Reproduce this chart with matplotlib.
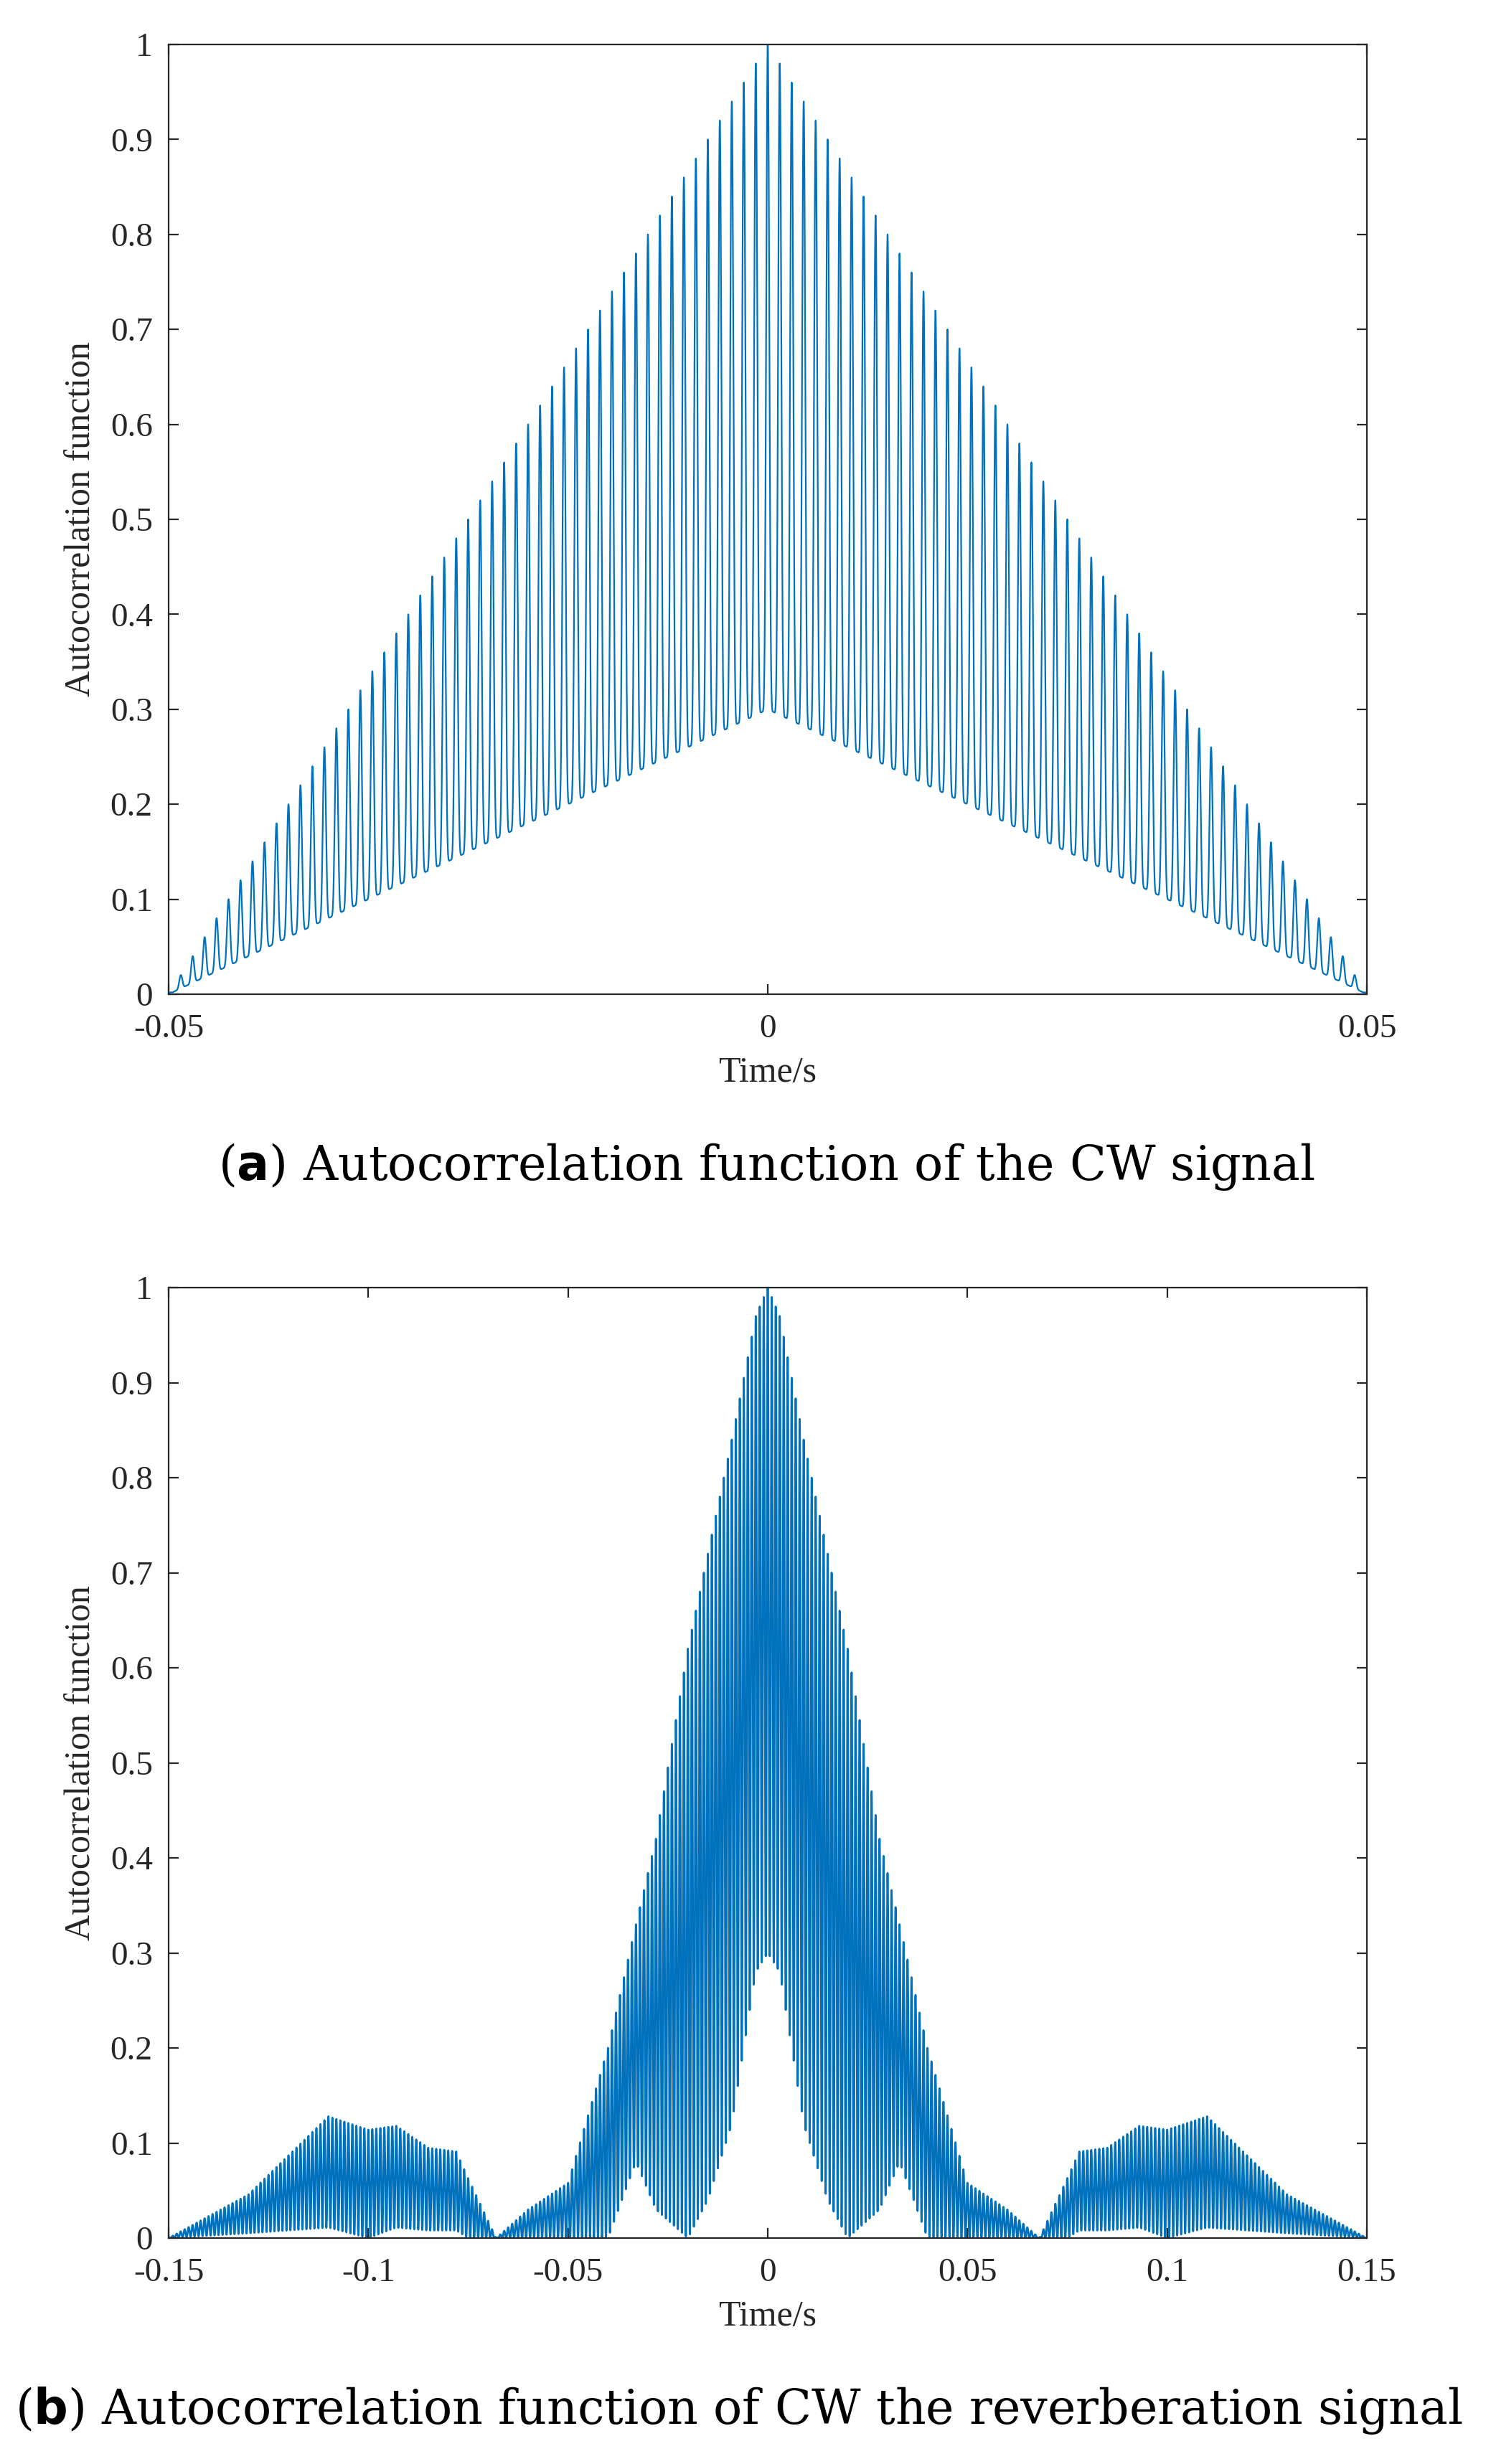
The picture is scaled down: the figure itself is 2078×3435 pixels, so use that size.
import numpy as np
import matplotlib
matplotlib.use("Agg")
import matplotlib.pyplot as plt

plt.rcParams['font.family'] = ['Liberation Serif', 'DejaVu Serif']

# Panel (a): envelope knots
a_t = [-0.05, 0.0, 0.05]
a_upper = [0.0, 1.0, 0.0]
a_lower = [0.0, 0.3, 0.0]
carrier_hz = 1000  # peak spacing ~1 ms

# Panel (b): envelope knots (negative half, mirrored)
b_t_half = [-0.15, -0.13, -0.11, -0.10, -0.093, -0.085, -0.078, -0.075, -0.068,
            -0.06, -0.05, -0.04, -0.033, -0.028, -0.02, -0.015, -0.009, -0.003, 0.0]
b_up_half = [0.0, 0.046, 0.128, 0.114, 0.118, 0.095, 0.091, 0.063, 0.0,
             0.03, 0.058, 0.20, 0.33, 0.42, 0.62, 0.72, 0.84, 0.97, 1.0]
b_lo_half = [0.0, 0.005, 0.011, 0.0, 0.011, 0.008, 0.008, 0.0, 0.0,
             0.0, 0.0, 0.0, 0.08, 0.03, 0.0, 0.04, 0.12, 0.28, 0.3]

b_t = b_t_half + [-v for v in b_t_half[-2::-1]]
b_upper = b_up_half + b_up_half[-2::-1]
b_lower = b_lo_half + b_lo_half[-2::-1]

def build(tk, up, lo, t0, t1, power):
    t = np.linspace(t0, t1, 60001)
    u = np.interp(t, tk, up)
    l = np.interp(t, tk, lo)
    osc = ((1 + np.cos(2 * np.pi * carrier_hz * t)) / 2) ** power
    return t, l + (u - l) * osc

W, H = 2078, 3435
fig = plt.figure(figsize=(W / 200, H / 200), dpi=200)
col = '#0072BD'

def style(ax, xlim, xticks, xlabels):
    ax.set_xlim(*xlim)
    ax.set_ylim(0, 1)
    ax.set_xticks(xticks)
    ax.set_xticklabels(xlabels)
    ax.set_yticks(np.round(np.arange(0, 1.01, 0.1), 1))
    ax.set_yticklabels(['0'] + [f'{v:.1f}' for v in np.arange(0.1, 0.95, 0.1)] + ['1'])
    ax.tick_params(direction='in', top=True, right=True, labelsize=17, colors='#262626', length=5)
    ax.tick_params(axis='x', pad=10)
    ax.tick_params(axis='y', pad=8)
    for s in ax.spines.values():
        s.set_color('#262626'); s.set_linewidth(0.8)
    ax.set_xlabel('Time/s', fontsize=18, color='#262626', labelpad=6)
    ax.set_ylabel('Autocorrelation function', fontsize=18, color='#262626', labelpad=6)

left, right = 235 / W, 1905 / W
ax1 = fig.add_axes([left, 1 - 1386 / H, right - left, (1386 - 62) / H])
t, y = build(a_t, a_upper, a_lower, -0.05, 0.05, 3)
ax1.plot(t, y, color=col, lw=0.8)
style(ax1, (-0.05, 0.05), [-0.05, 0, 0.05], ['-0.05', '0', '0.05'])

ax2 = fig.add_axes([left, 1 - 3120 / H, right - left, (3120 - 1795) / H])
t, y = build(b_t, b_upper, b_lower, -0.15, 0.15, 1)
ax2.plot(t, y, color=col, lw=1.0)
style(ax2, (-0.15, 0.15), [-0.15, -0.1, -0.05, 0, 0.05, 0.1, 0.15],
      ['-0.15', '-0.1', '-0.05', '0', '0.05', '0.1', '0.15'])

fig.text(1068 / W, 1 - 1626 / H, r'($\mathbf{a}$) Autocorrelation function of the CW signal',
         ha='center', va='center', fontsize=24, family='DejaVu Serif')
fig.text(1030 / W, 1 - 3361 / H, r'($\mathbf{b}$) Autocorrelation function of CW the reverberation signal',
         ha='center', va='center', fontsize=24, family='DejaVu Serif')

fig.savefig('out.png', dpi=200)
